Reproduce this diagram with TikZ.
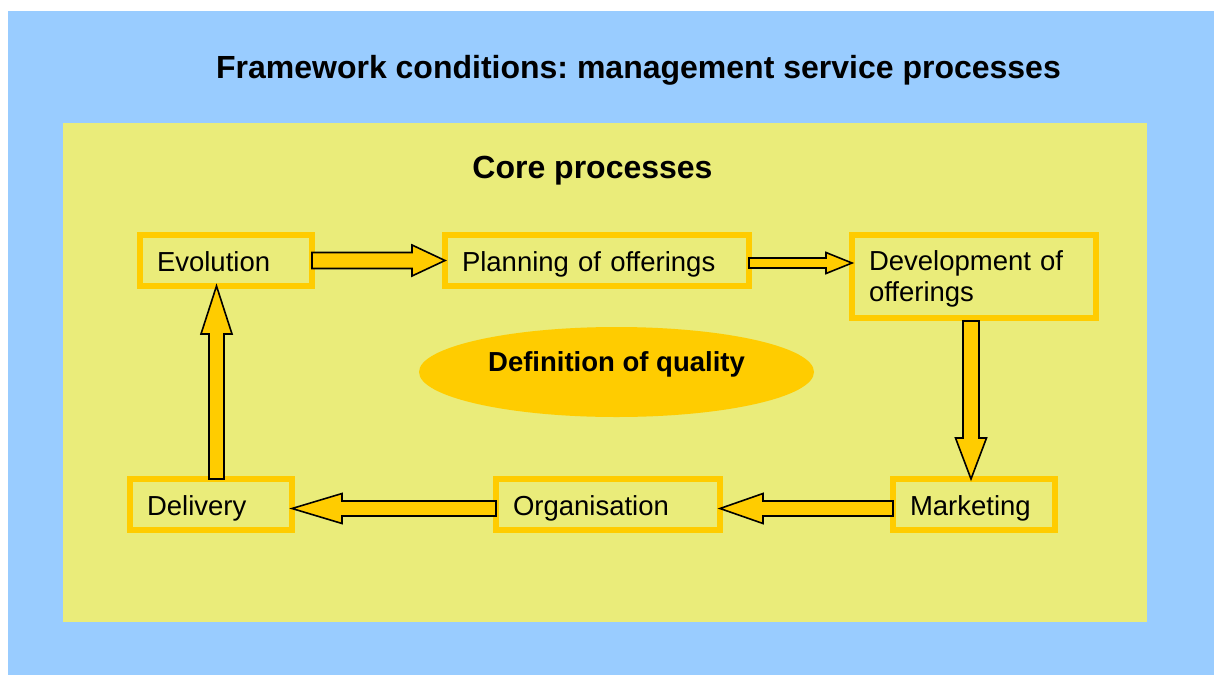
\documentclass[tikz,border=0pt]{standalone}
\usepackage{fontspec}
\setmainfont{Liberation Sans}
\usetikzlibrary{calc,shapes.geometric}
\definecolor{frameblue}{RGB}{153,204,255}
\definecolor{corebg}{RGB}{234,236,122}
\definecolor{gold}{RGB}{255,204,0}
\frenchspacing

% horizontal block arrow: start, tip, shaft half-height, head half-height, head base offset
\newcommand\hblockarrow[5]{%
  \draw[blockarrow] ($(#1)+(0,-#3)$) -- ($(#2)+(#5,-#3)$) -- ($(#2)+(#5,-#4)$) -- (#2)
    -- ($(#2)+(#5,#4)$) -- ($(#2)+(#5,#3)$) -- ($(#1)+(0,#3)$) -- cycle;}
% vertical block arrow: start, tip, shaft half-width, head half-width, head base offset
\newcommand\vblockarrow[5]{%
  \draw[blockarrow] ($(#1)+(-#3,0)$) -- ($(#2)+(-#3,#5)$) -- ($(#2)+(-#4,#5)$) -- (#2)
    -- ($(#2)+(#4,#5)$) -- ($(#2)+(#3,#5)$) -- ($(#1)+(#3,0)$) -- cycle;}

\begin{document}
\begin{tikzpicture}[x=1pt,y=-1pt,
  stepbox/.style={draw=gold, line width=6pt, rectangle, outer sep=0pt,
    inner xsep=17pt, inner ysep=0pt, align=left,
    font=\fontsize{27.5}{31}\selectfont},
  oneline/.style={text height=21pt, text depth=0pt, minimum height=51pt},
  blockarrow/.style={draw=black, line width=1.6pt, fill=gold, line join=miter},
  heading/.style={font=\bfseries\fontsize{32}{36}\selectfont, anchor=base, inner sep=0pt}]

\useasboundingbox (0,0) rectangle (1214,675);
% outer frame and core area
\fill[frameblue] (8,11) rectangle (1214,675);
\fill[corebg] (63,123) rectangle (1147,622);

\node[heading] (frame) at (638.5,78) {Framework conditions: management service processes};
\node[heading] (core) at (592.5,178) {Core processes};

% process steps
\node[stepbox, oneline, text width=138pt] (evo)  at (226,260.5) {Evolution};
\node[stepbox, oneline, text width=270pt] (plan) at (597,260.5) {Planning of offerings};
\node[stepbox, text width=210pt, minimum height=83pt] (dev) at (974,276.5)
  {\rule{0pt}{24.5pt}Development of\\offerings};
\node[stepbox, oneline, text width=128pt] (mkt)  at (974,504.5) {Marketing};
\node[stepbox, oneline, text width=190pt] (org)  at (608,504.5) {Organisation};
\node[stepbox, oneline, text width=128pt] (del)  at (211,504.5) {Delivery};

% central ellipse
\node[ellipse, fill=gold, minimum width=395pt, minimum height=90pt, inner sep=0pt] (quality) at (616.5,372) {};
\node[font=\bfseries\fontsize{27.5}{31}\selectfont, anchor=base, inner sep=0pt] (qualitytext)
  at ($(quality.center)+(0,-1)$) {Definition of quality};

% cycle of block arrows
\hblockarrow{evo.east}{plan.west}{8}{15.5}{-33}

\coordinate (a2s) at ($(plan.east)+(0,2.5)$);
\coordinate (a2t) at (dev.west |- a2s);
\hblockarrow{a2s}{a2t}{5}{10.5}{-26}

\coordinate (a3s) at ($(dev.south)+(-3,3)$);
\coordinate (a3t) at (a3s |- mkt.north);
\vblockarrow{a3s}{a3t}{8}{15.5}{-41}

\coordinate (a4s) at ($(mkt.west)+(0,4)$);
\coordinate (a4t) at (org.east |- a4s);
\hblockarrow{a4s}{a4t}{7.5}{15}{43}

\coordinate (a5s) at ($(org.west)+(0,4)$);
\coordinate (a5t) at (del.east |- a5s);
\hblockarrow{a5s}{a5t}{7.5}{15}{50}

\coordinate (a6s) at ($(del.north)+(5.5,0)$);
\coordinate (a6t) at (a6s |- evo.south);
\vblockarrow{a6s}{a6t}{7.5}{15.5}{48}
\end{tikzpicture}
\end{document}
